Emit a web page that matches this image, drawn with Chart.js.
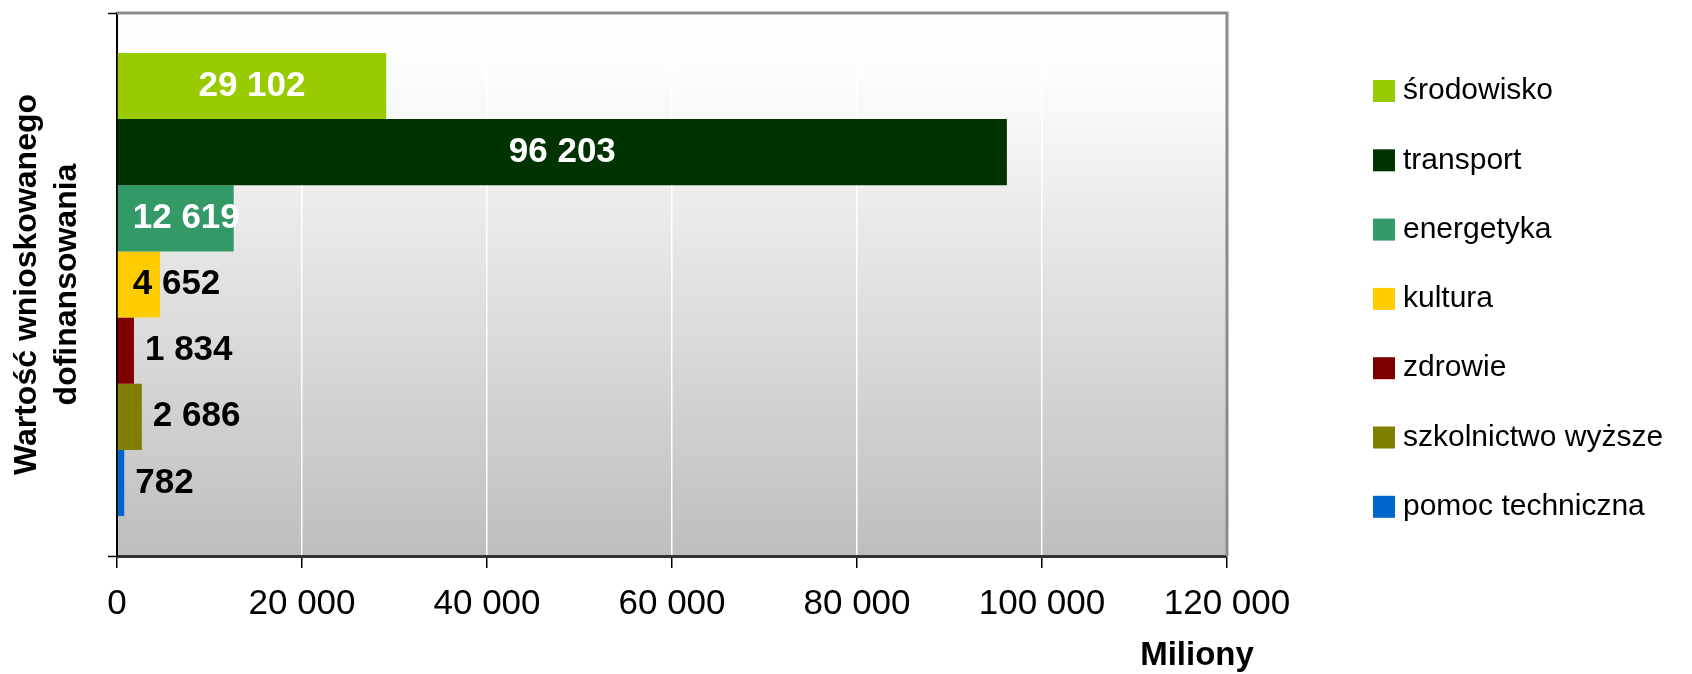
<!DOCTYPE html>
<html lang="pl">
<head>
<meta charset="UTF-8" />
<title>Wartość wnioskowanego dofinansowania</title>
<script src="https://cdn.jsdelivr.net/npm/chart.js"></script>
<style>
  html, body { margin: 0; padding: 0; background: #fff; }
  #wrap { width: 1692px; height: 674px; }
</style>
</head>
<body>
<div id="wrap"><canvas id="chart" width="1692" height="674"></canvas></div>
<script>
  const sectors = ['środowisko', 'transport', 'energetyka', 'kultura', 'zdrowie', 'szkolnictwo wyższe', 'pomoc techniczna'];
  const values = [29102, 96203, 12619, 4652, 1834, 2686, 782];
  const colors = ['#99cc00', '#003300', '#339966', '#ffcc00', '#800000', '#808000', '#0066cc'];
  const xTicks = [0, 20000, 40000, 60000, 80000, 100000, 120000];

  const FONT = "'Liberation Sans', Arial, sans-serif";

  // how each value label sits on its bar
  const labelPlace = {
    'środowisko': 'center', 'transport': 'center', 'energetyka': 'base', 'kultura': 'base',
    'zdrowie': 'end', 'szkolnictwo wyższe': 'end', 'pomoc techniczna': 'end'
  };
  const whiteLabels = ['środowisko', 'transport', 'energetyka'];

  const fmt = n => String(n).replace(/\B(?=(\d{3})+(?!\d))/g, ' ');

  const decor = {
    id: 'decor',
    beforeDraw(chart) {
      const { ctx, chartArea: a } = chart;
      const g = ctx.createLinearGradient(0, a.top, 0, a.bottom);
      g.addColorStop(0, '#ffffff');
      g.addColorStop(0.12, '#fcfcfc');
      g.addColorStop(1, '#bebebe');
      ctx.save();
      ctx.fillStyle = g;
      ctx.fillRect(a.left, a.top, a.right - a.left, a.bottom - a.top);
      ctx.restore();
    },
    afterDatasetsDraw(chart) {
      const ctx = chart.ctx;
      ctx.save();
      ctx.font = 'bold 35px ' + FONT;
      ctx.textBaseline = 'middle';
      chart.data.datasets.forEach((ds, i) => {
        const bar = chart.getDatasetMeta(i).data[0];
        const place = labelPlace[ds.label];
        ctx.fillStyle = whiteLabels.includes(ds.label) ? '#ffffff' : '#000000';
        let x;
        if (place === 'center') { ctx.textAlign = 'center'; x = (bar.x + bar.base) / 2; }
        else if (place === 'base') { ctx.textAlign = 'left'; x = bar.base + 15; }
        else { ctx.textAlign = 'left'; x = bar.x + 11; }
        ctx.fillText(fmt(ds.data[0]), x, bar.y);
      });
      ctx.restore();
    },
    afterDraw(chart) {
      const { ctx, chartArea: a } = chart;
      ctx.save();
      // top and right frame
      ctx.strokeStyle = '#8c8c8c';
      ctx.lineWidth = 3;
      ctx.beginPath();
      ctx.moveTo(a.left, a.top);
      ctx.lineTo(a.right, a.top);
      ctx.lineTo(a.right, a.bottom);
      ctx.stroke();

      // unit label
      ctx.fillStyle = '#000';
      ctx.font = 'bold 33px ' + FONT;
      ctx.textAlign = 'center';
      ctx.textBaseline = 'middle';
      ctx.fillText('Miliony', 1197, 656);

      // legend
      ctx.font = '30px ' + FONT;
      ctx.textAlign = 'left';
      chart.data.datasets.forEach((ds, i) => {
        const cy = 91 + i * 69.3;
        ctx.fillStyle = ds.backgroundColor;
        ctx.fillRect(1373, cy - 11, 22, 22);
        ctx.fillStyle = '#000';
        ctx.fillText(ds.label, 1403, cy);
      });
      ctx.restore();
    }
  };

  new Chart(document.getElementById('chart'), {
    type: 'bar',
    data: {
      labels: [''],
      datasets: sectors.map((s, i) => ({
        label: s,
        data: [values[i]],
        backgroundColor: colors[i],
        borderWidth: 0
      }))
    },
    options: {
      responsive: false,
      animation: false,
      indexAxis: 'y',
      layout: { padding: { top: 13, right: 465, bottom: 0, left: 0 } },
      datasets: { bar: { categoryPercentage: 0.853, barPercentage: 1 } },
      plugins: {
        legend: { display: false },
        tooltip: { enabled: false }
      },
      scales: {
        x: {
          min: 0,
          max: 120000,
          afterBuildTicks: s => { s.ticks = xTicks.map(v => ({ value: v })); },
          afterFit: s => { s.height = 118; },
          ticks: {
            color: '#000',
            padding: 15,
            font: { family: FONT, size: 35 },
            callback: v => fmt(v)
          },
          grid: {
            color: '#ffffff',
            lineWidth: 1.5,
            tickColor: '#000',
            tickWidth: 1.5,
            tickLength: 12
          },
          border: { color: '#333', width: 3 }
        },
        y: {
          afterFit: s => { s.width = 117; },
          ticks: { display: false },
          grid: {
            drawOnChartArea: false,
            tickColor: '#000',
            tickWidth: 1.5,
            tickLength: 9
          },
          border: { color: '#000', width: 2 },
          title: {
            display: true,
            text: ['Wartość wnioskowanego', 'dofinansowania'],
            color: '#000',
            font: { family: FONT, size: 32, weight: 'bold', lineHeight: 1.25 },
            padding: { top: 7, bottom: 0 }
          }
        }
      }
    },
    plugins: [decor]
  });
</script>
</body>
</html>
